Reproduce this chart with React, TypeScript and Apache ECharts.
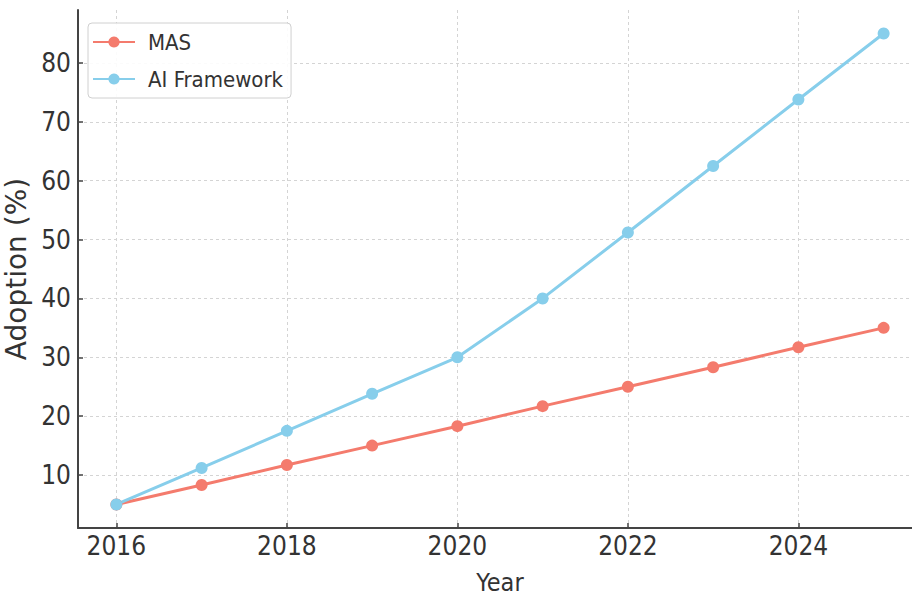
import React, { useEffect, useRef } from "react";
import * as echarts from "echarts";

const years = [2016, 2017, 2018, 2019, 2020, 2021, 2022, 2023, 2024, 2025];
const masValues = [5, 8.3, 11.7, 15, 18.3, 21.7, 25, 28.3, 31.7, 35];
const aiValues = [5, 11.2, 17.5, 23.8, 30, 40, 51.2, 62.5, 73.8, 85];
const xTicks = [2016, 2018, 2020, 2022, 2024];
const yTicks = [10, 20, 30, 40, 50, 60, 70, 80];

const FONT = "'Liberation Sans Narrow', 'DejaVu Sans Condensed', sans-serif";
const TEXT = "#333";
const MAS_COLOR = "#F47B6D";
const AI_COLOR = "#87CEEB";

export default function App() {
  const ref = useRef<HTMLDivElement>(null);
  useEffect(() => {
    if (!ref.current) return;
    const chart = echarts.init(ref.current, null, { renderer: "svg" });
    const mk = (vals: number[]) => years.map((y, i) => [y, vals[i]]);
    chart.setOption({
      animation: false,
      backgroundColor: "#fff",
      grid: { left: 78, right: -10, top: 10, bottom: 70, containLabel: false, outerBoundsMode: "none" },
      legend: {
        orient: "vertical",
        left: 88,
        top: 23,
        padding: [8, 8, 8, 4],
        borderColor: "#d0d0d0",
        borderWidth: 1,
        borderRadius: 4,
        backgroundColor: "rgba(255,255,255,0.9)",
        itemWidth: 42,
        itemHeight: 14,
        itemGap: 15,
        textStyle: { fontFamily: FONT, fontSize: 22, color: TEXT, padding: [0, 0, 0, 8] },
        data: ["MAS", "AI Framework"],
      },
      xAxis: {
        type: "value",
        min: 2015.55,
        max: 2025.45,
        name: "Year",
        nameLocation: "middle",
        nameGap: 42,
        nameTextStyle: { fontFamily: FONT, fontSize: 25, color: TEXT, lineHeight: 25 },
        axisLine: { show: true, lineStyle: { color: "#444", width: 2 } },
        axisTick: { show: true, inside: true, length: 5, lineStyle: { color: "#444", width: 1.5 }, customValues: xTicks },
        axisLabel: {
          fontFamily: FONT,
          fontSize: 26,
          color: TEXT,
          margin: 5,
          customValues: xTicks,
          formatter: (v: number) => String(v),
        },
        splitLine: { show: true, lineStyle: { color: "#d4d4d4", type: [3, 3], width: 1 } },
      },
      yAxis: {
        type: "value",
        min: 1,
        max: 89,
        name: "Adoption (%)",
        nameLocation: "middle",
        nameGap: 46,
        nameRotate: 90,
        nameTextStyle: { fontFamily: "'DejaVu Sans', sans-serif", fontSize: 28, color: TEXT },
        axisLine: { show: true, lineStyle: { color: "#444", width: 2 } },
        axisTick: { show: true, inside: true, length: 5, lineStyle: { color: "#444", width: 1.5 }, customValues: yTicks },
        axisLabel: { fontFamily: FONT, fontSize: 26, color: TEXT, margin: 7, customValues: yTicks },
        splitLine: { show: true, lineStyle: { color: "#d4d4d4", type: [3, 3], width: 1 } },
      },
      series: [
        {
          name: "MAS",
          type: "line",
          data: mk(masValues),
          symbol: "circle",
          symbolSize: 12,
          lineStyle: { color: MAS_COLOR, width: 3 },
          itemStyle: { color: MAS_COLOR },
        },
        {
          name: "AI Framework",
          type: "line",
          data: mk(aiValues),
          symbol: "circle",
          symbolSize: 12,
          lineStyle: { color: AI_COLOR, width: 3 },
          itemStyle: { color: AI_COLOR },
        },
      ],
    });
    return () => chart.dispose();
  }, []);
  return <div ref={ref} style={{ width: 912, height: 598, position: "absolute", left: 0, top: 0 }} />;
}
